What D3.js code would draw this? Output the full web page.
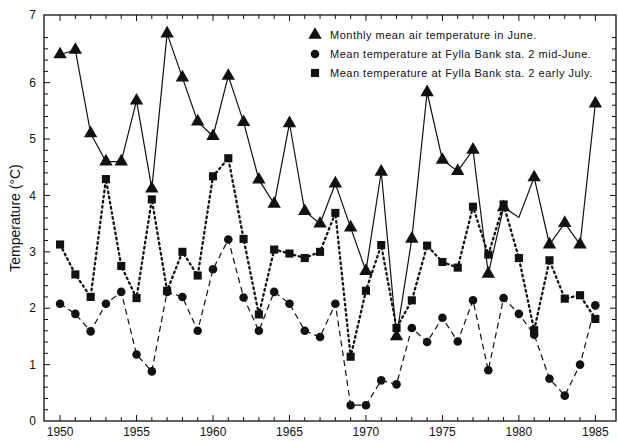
<!DOCTYPE html>
<html>
<head>
<meta charset="utf-8">
<script src="https://cdn.jsdelivr.net/npm/d3@7"></script>
<style>
  body { margin: 0; background: #fff; }
  text { font-family: "Liberation Sans", Arial, sans-serif; fill: #111; }
</style>
</head>
<body>
<svg id="chart"></svg>
<script>
// data
const years = d3.range(1950, 1986);
const airJune = [6.5, 6.58, 5.1, 4.6, 4.6, 5.68, 4.12, 6.87, 6.09, 5.31, 5.05, 6.12, 5.3, 4.28, 3.85, 5.28, 3.72, 3.5,
  4.21, 3.43, 2.66, 4.42, 1.5, 3.23, 5.83, 4.63, 4.43, 4.81, 2.61, 3.79, 3.61, 4.32, 3.13, 3.51, 3.13, 5.63];
const airNoMarker = [1980];
const midJune = [2.08, 1.9, 1.59, 2.08, 2.29, 1.18, 0.88, 2.29, 2.2, 1.6, 2.69, 3.22, 2.19, 1.6, 2.29, 2.08, 1.6, 1.49,
  2.08, 0.28, 0.28, 0.72, 0.65, 1.65, 1.4, 1.83, 1.41, 2.14, 0.9, 2.18, 1.9, 1.53, 0.75, 0.45, 1.0, 2.05];
const earlyJuly = [3.13, 2.6, 2.2, 4.29, 2.75, 2.18, 3.93, 2.31, 3.0, 2.58, 4.34, 4.66, 3.23, 1.89, 3.04, 2.97, 2.89, 3.0,
  3.69, 1.14, 2.31, 3.12, 1.65, 2.14, 3.11, 2.82, 2.72, 3.8, 2.95, 3.84, 2.89, 1.61, 2.85, 2.17, 2.23, 1.81];
const xTicks = [1950, 1955, 1960, 1965, 1970, 1975, 1980, 1985];
const yTicks = [0, 1, 2, 3, 4, 5, 6, 7.2];
const yTickLabels = ["0", "1", "2", "3", "4", "5", "6", "7"];
const legendLabels = [
  "Monthly mean air temperature in June.",
  "Mean temperature at Fylla Bank sta. 2 mid-June.",
  "Mean temperature at Fylla Bank sta. 2 early July."
];
const yLabel = "Temperature (\u00B0C)";

const width = 618, height = 442;
const margin = { top: 15, right: 2, bottom: 21, left: 44 };

const svg = d3.select("#chart").attr("width", width).attr("height", height);

const x = d3.scaleLinear().domain([1948.95, 1986.35]).range([margin.left, width - margin.right]);
const y = d3.scaleLinear().domain([0, 7.2]).range([height - margin.bottom, margin.top]);

const g = svg.append("g");

// frame
g.append("rect")
  .attr("x", x.range()[0]).attr("y", y.range()[1])
  .attr("width", x.range()[1] - x.range()[0])
  .attr("height", y.range()[0] - y.range()[1])
  .attr("fill", "none").attr("stroke", "#111").attr("stroke-width", 1.3);

// inward ticks on all four sides
const yMinor = d3.range(0, 7.2, 0.2).filter(v => Math.abs(v - Math.round(v)) > 0.01);
const xMinor = years.filter(v => v % 5 !== 0);

const tickLines = (sel, data, pos, len, side) => {
  sel.selectAll(null).data(data).enter().append("line")
    .attr("stroke", "#111").attr("stroke-width", 1)
    .each(function (d) {
      const l = d3.select(this);
      const p = pos(d);
      if (side === "left") l.attr("x1", x.range()[0]).attr("x2", x.range()[0] + len).attr("y1", p).attr("y2", p);
      if (side === "right") l.attr("x1", x.range()[1]).attr("x2", x.range()[1] - len).attr("y1", p).attr("y2", p);
      if (side === "bottom") l.attr("y1", y.range()[0]).attr("y2", y.range()[0] - len).attr("x1", p).attr("x2", p);
      if (side === "top") l.attr("y1", y.range()[1]).attr("y2", y.range()[1] + len).attr("x1", p).attr("x2", p);
    });
};
["left", "right"].forEach(s => {
  tickLines(g, yTicks.slice(1, -1), y, 6, s);
  tickLines(g, yMinor, y, 4, s);
});
["bottom", "top"].forEach(s => {
  tickLines(g, xTicks, x, 6, s);
  tickLines(g, xMinor, x, 4, s);
});

// tick labels
g.selectAll(".ylab").data(yTicks).enter().append("text")
  .attr("x", x.range()[0] - 8).attr("y", d => y(d)).attr("dy", "0.35em")
  .attr("text-anchor", "end").style("font-size", "12px")
  .text((d, i) => yTickLabels[i]);

g.selectAll(".xlab").data(xTicks).enter().append("text")
  .attr("x", d => x(d)).attr("y", y.range()[0] + 15)
  .attr("text-anchor", "middle").style("font-size", "12px")
  .text(d => d);

svg.append("text")
  .attr("transform", `translate(20 ${(y.range()[0] + y.range()[1]) / 2}) rotate(-90)`)
  .attr("text-anchor", "middle").style("font-size", "14px")
  .text(yLabel);

// series
const series = [
  { values: airJune, dash: null, shape: d3.symbolTriangle, size: 78 },
  { values: midJune, dash: "6,4", shape: d3.symbolCircle, size: 58 },
  { values: earlyJuly, dash: "1.6,3.6", shape: d3.symbolSquare, size: 66 }
];

series.forEach((s, k) => {
  const line = d3.line().x((d, i) => x(years[i])).y(d => y(d));
  g.append("path")
    .attr("d", line(s.values))
    .attr("fill", "none").attr("stroke", "#111")
    .attr("stroke-width", k === 2 ? 2.3 : 1.2)
    .attr("stroke-linecap", k === 2 ? "round" : "butt")
    .attr("stroke-dasharray", s.dash);

  const sym = d3.symbol().type(s.shape).size(s.size);
  g.selectAll(null)
    .data(s.values.map((v, i) => ({ year: years[i], v })).filter(d => k !== 0 || !airNoMarker.includes(d.year)))
    .enter().append("path")
    .attr("d", sym)
    .attr("transform", d => `translate(${x(d.year)} ${y(d.v)})`)
    .attr("fill", "#111");
});

// legend
const legend = svg.append("g").attr("transform", "translate(315 35)");
legendLabels.forEach((label, i) => {
  const row = legend.append("g").attr("transform", `translate(0 ${i * 19})`);
  row.append("path").attr("d", d3.symbol().type(series[i].shape).size(series[i].size)).attr("fill", "#111");
  row.append("text").attr("x", 15).attr("dy", "0.35em")
    .style("font-size", "11px").style("letter-spacing", "0.5px")
    .text(label);
});
</script>
</body>
</html>
